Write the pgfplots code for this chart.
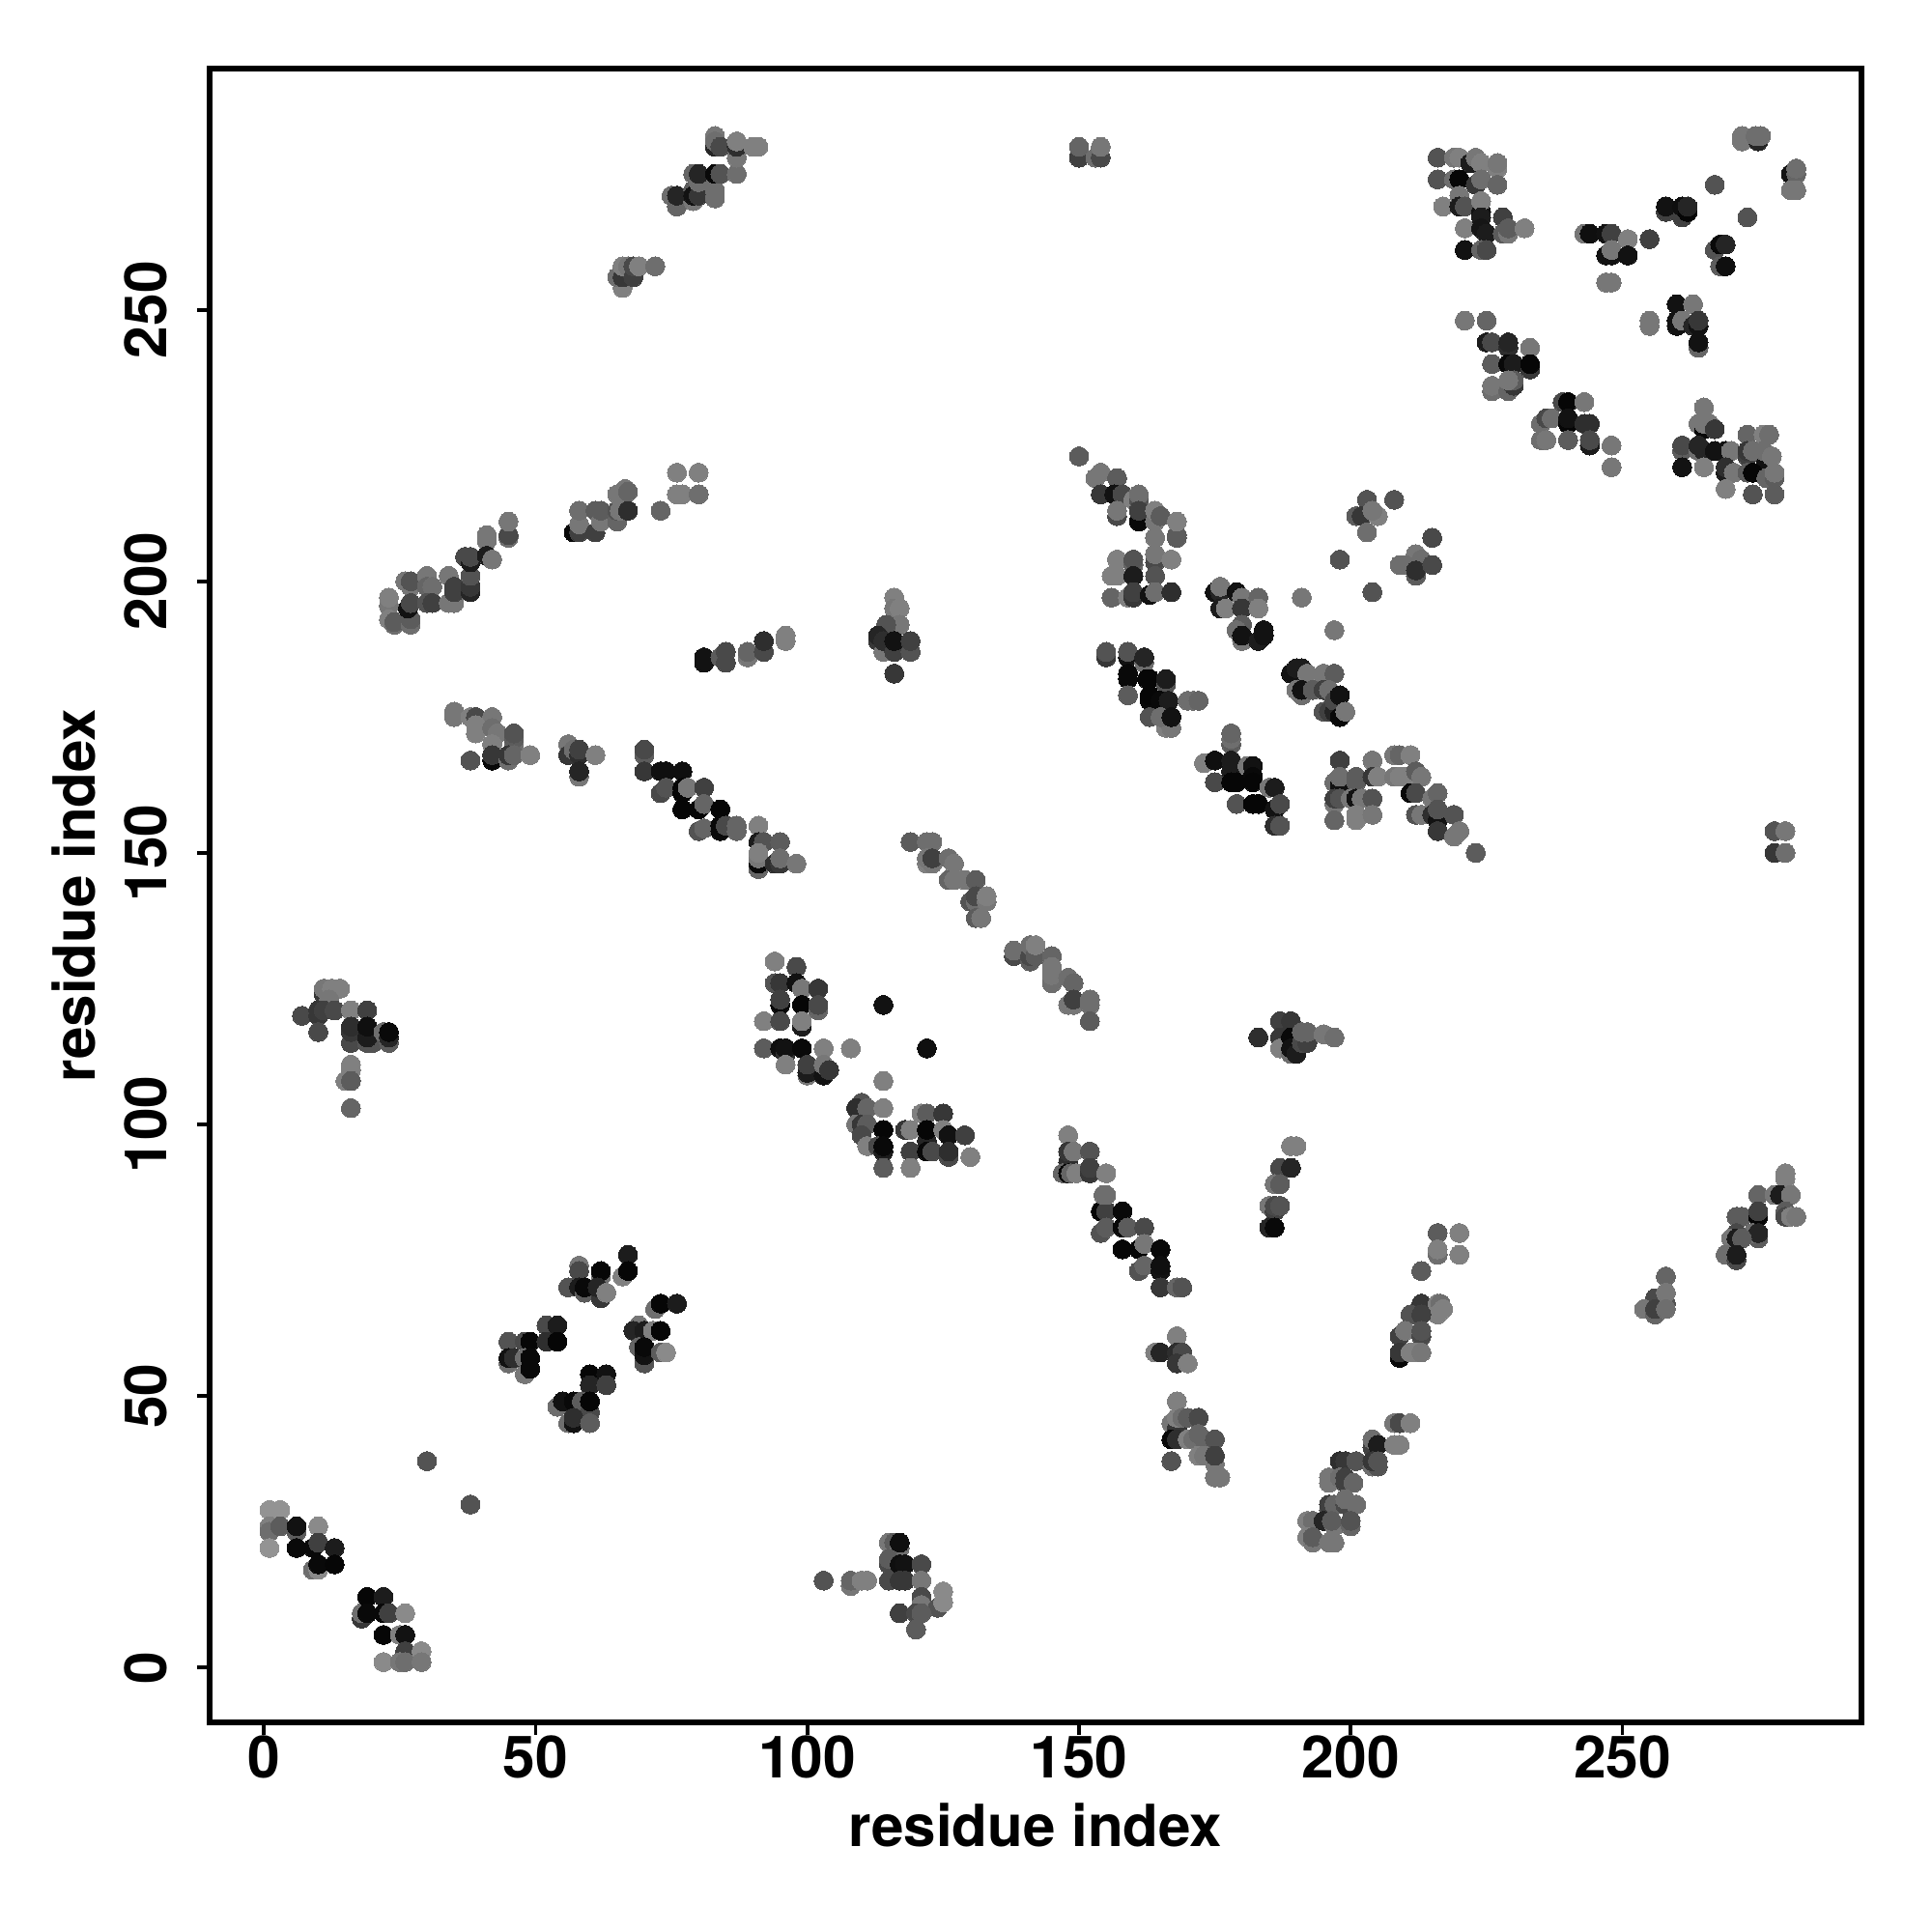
\documentclass[border=0pt]{standalone}
\usepackage{fontspec}
\setmainfont{TeX Gyre Heros}
\usepackage{pgfplots}
\pgfplotsset{compat=1.18}
\begin{document}
\begin{tikzpicture}
\path[use as bounding box] (0,0) rectangle (20cm,20cm);
\begin{axis}[
 at={(2.17cm,2.17cm)}, anchor=south west, scale only axis,
 width=17.10cm, height=17.12cm,
 xmin=-10, xmax=294, ymin=-10.1, ymax=294.4,
 xtick={0,50,100,150,200,250}, ytick={0,50,100,150,200,250},
 axis line style={line width=1.45pt}, tick style={black,line width=1.1pt},
 tick align=outside, major tick length=0.13cm, xtick pos=bottom, ytick pos=left,
 /pgf/number format/assume math mode=true,
 ticklabel style={font=\fontsize{17.2}{18}\selectfont\bfseries},
 label style={font=\fontsize{17.1}{18}\selectfont\bfseries},
 yticklabel style={rotate=90,anchor=south,yshift=0.19cm},
 xticklabel style={yshift=0.12cm},
 xlabel={residue index}, ylabel={residue index},
 xlabel style={at={(axis description cs:0.5,0)},anchor=north,yshift=-0.71cm},
 ylabel style={at={(axis description cs:0,0.5)},anchor=south,rotate=0,yshift=1.06cm},
 colormap={gs}{gray(0cm)=(0); gray(1cm)=(1)},
]
\addplot[scatter, only marks, mark=*, mark size=2.8pt, point meta=explicit, point meta min=0, point meta max=140,
 scatter/use mapped color={draw=mapped color,fill=mapped color}, mark options={line width=0pt}]
 table[row sep=\\, header=false, x index=0, y index=1, meta index=2] {
1 29 80\\3 29 80\\1 26 70\\1 25 60\\3 26 50\\6 25 50\\6 26 10\\10 26 75\\1 22 80\\6 22 5\\9 22 5\\10 23 35\\13 22 15\\9 18 60\\10 18 75\\10 19 5\\13 19 3\\
18 9 30\\18 10 60\\19 13 3\\22 13 15\\19 10 5\\22 10 5\\23 10 35\\26 10 75\\22 6 3\\25 6 70\\26 6 10\\26 3 35\\29 3 75\\22 1 75\\25 1 65\\26 1 60\\29 1 65\\
30 38 45\\38 30 45\\
45 60 45\\48 60 40\\49 60 3\\52 63 40\\54 63 15\\52 60 25\\54 60 3\\45 56 60\\45 57 10\\46 57 25\\48 57 60\\48 54 65\\49 55 5\\49 57 5\\
58 74 65\\58 73 40\\62 72 60\\62 73 3\\56 70 45\\58 70 15\\59 69 50\\59 70 5\\62 68 30\\61.4 70 20\\63 69 70\\67 76 15\\66 72 70\\67 73 3\\
72 66 60\\73 67 3\\76 67 15\\69 63 65\\68 62 20\\70 62 15\\71.6 62 70\\73 62 3\\69 59 55\\70 56 45\\70 57.5 10\\70 59 5\\73 58 50\\74 58 75\\
60 54 3\\63 54 10\\60 52 20\\63 52 35\\54 48 60\\55 49 10\\57 49 5\\58.5 49 50\\60 47 40\\60 49 3\\56 45 60\\57 45 10\\57 46 25\\60 45 50\\
114 108 70\\110 104 45\\109 103 25\\111 103 55\\114 103 70\\109 100 65\\110 100 30\\111 100 50\\110 98 40\\114 99 3\\111 96 70\\113 96 40\\114 95 15\\114 96 5\\114 92 50\\118 99 30\\119 99 70\\119 95 35\\119 92 70\\121 102 70\\122 102 50\\125 102 30\\122 97 20\\122 99 3\\122 95 5\\123 95 40\\125 99 70\\126 98 10\\129 98 35\\126 94 40\\126 95 25\\130 94 70\\
148 98 70\\148 93 25\\148 95 30\\149 95 65\\152 95 45\\147 91 55\\148 91 5\\148.5 91 55\\149.5 91 70\\152 91 30\\152 92 35\\155 91 70\\
154 84 3\\155 84 35\\154.5 87 60\\155 87 60\\158 84 5\\154 80 45\\155 81 50\\158 81 5\\159 81 50\\162 81 40\\158 77 3\\161 77 3\\162 78 65\\165 77 5\\161 73 45\\162 74 55\\165 73 10\\165 74 8\\165 70 30\\168 70 55\\169 70 45\\
168 61 70\\164 58 70\\165 58 20\\168 58 25\\169 58 40\\168 56 30\\170 56 70\\
168 49 70\\167 45 65\\168 44 30\\168 46 70\\169 46 60\\170 46 50\\172 46 40\\167 42 5\\168 42 25\\170 42 70\\171 42 60\\172 43 55\\173 42 55\\175 42 45\\167 38 45\\172 39 70\\173 39 65\\175 37.5 65\\175 39 35\\175 35 65\\176 35 65\\
103 16 45\\108 15 65\\108 16 55\\110 16 70\\111 16 70\\115 23 65\\116 23 50\\117 22 60\\117 23 8\\115 19 40\\115 20 50\\117 19 8\\118 19 10\\121 19 40\\115 16 40\\117 16 30\\118 16 30\\121 16 65\\121 13 40\\121 11.5 65\\124 11 45\\125 14 75\\125 12 75\\117 10 35\\120 10 40\\121 10 50\\120 7 50\\
189 96 70\\190 96 70\\187 92 40\\189 92 20\\186 89 65\\187 89 50\\185 85 65\\186 84 35\\186 85 40\\187 85 45\\185 81 20\\186 81 5\\
183 116 25\\187 119 35\\189 119 30\\187 116 30\\187 114 70\\189 113 60\\189 116 5\\189 114 10\\190 113 15\\191 115 40\\192 115 35\\191 117 55\\192 117 55\\195 116.6 65\\197 116 60\\
216 80 50\\220 80 70\\216 76 60\\216 77 70\\220 76 70\\213 73 50\\213 67 30\\216 67 70\\216.5 67 60\\216 65 70\\217 66 70\\211 65 45\\213 65 35\\209 61 35\\210 62 65\\213 61 40\\213 62 45\\209 57 5\\209 58 30\\211 58 70\\212 58 70\\213 58 65\\
208 45 65\\209 45 40\\211 45 70\\204 40.5 35\\204 42 60\\205 41 15\\208 41 70\\209 41 70\\198 38 25\\199 38 30\\201 38 45\\204 37 60\\205 37 45\\204 38 30\\205 38 45\\196 34 65\\196 35 65\\198 35 60\\199 34 35\\199 35 35\\200.5 34 55\\
196 29 45\\196 30 35\\197 30 55\\199 30 40\\199 31 60\\201 30 60\\192 27 70\\193 27 60\\195 27 20\\197 26 65\\196.5 27 50\\200 26 55\\200 27 45\\192 24 70\\193 23 65\\193 24 50\\196 23 65\\197 23 65\\
258 72 55\\256 68 40\\258 67 45\\258 69 65\\254 66 65\\256 65 55\\256 66 35\\258 66 60\\
280 91 70\\280 90 70\\275 87 55\\278 87 65\\279 87 15\\281 87 65\\280 84 50\\280 83 40\\281 83 70\\282 83 65\\271 83 50\\272 83 50\\275 83 3\\275 84 35\\275 79 50\\274 80 60\\275 80 20\\271 80 40\\270 79 65\\271 79 15\\272 79 50\\269 76 60\\271 75 40\\271 76 15\\
7 120 40\\11 124 30\\11 125 65\\12.5 125 70\\14 125 70\\12 123 65\\10 120 30\\10 121 30\\11 121 35\\13 121 40\\10 117 40\\16 121 70\\19 121 35\\16 115 40\\16 117 30\\16 118 25\\19 115 45\\20 115 45\\19 116 15\\19 118 8\\22 117 60\\23 115 50\\23 116 20\\23 117 5\\16 111 70\\16 110 70\\15 108 70\\16 108 50\\16 103 55\\
35 176 65\\35 175 65\\38 175 70\\39 175 40\\42 175 65\\39 173.5 70\\39 172 70\\42 173 60\\43 172 65\\42 170 70\\46 169.5 60\\46 171 50\\46 172 45\\42 167 5\\42 168 30\\38 167 45\\45 167 60\\45 168 30\\46 168 55\\49 168 70\\
56 170 65\\56 168 30\\57 169 60\\58 168 25\\58 169 35\\61 168 70\\58 164 65\\58 165 20\\
70 168 50\\70 169 40\\70 165 30\\73 165 8\\74 165 8\\77 165 8\\73 161 40\\74 162 45\\77 161 3\\77 162 3\\78 162 65\\81 162 35\\77 158 3\\80 158 3\\81 159 55\\84 158 3\\80 154 45\\81 154.5 55\\84 154 5\\84 155 5\\85 155 40\\87 154 55\\87 155 55\\
91 155 70\\91 152 15\\92 152 45\\95 152 50\\91 147 55\\91 148 5\\91 149 65\\91 150 70\\94 148 25\\95 148 30\\95 149 60\\98 148 65\\
94 130 70\\98 129 40\\94 126 45\\95 126 30\\98 126 10\\99 125 65\\102 125 30\\95 122 5\\95 123 35\\99 122 3\\102 121 55\\102 122 40\\92 119 70\\95 119 40\\99 118 15\\99 119 70\\
92 114 50\\95 114 8\\96 113 25\\96 114 10\\99 114 5\\103 114 70\\108 114 70\\96 111 70\\100 109 65\\100 109.5 15\\100 111 35\\103 109 10\\103 111 65\\104 110 30\\
114 122 10\\122 114 8\\114 108 70\\
116 197 70\\116 195 65\\117 195 70\\117 192 65\\114.5 192 45\\113 189 30\\113 190 20\\114 187 65\\114 189 25\\116 187 35\\116 189 10\\119 187 45\\119 189 35\\116 183 30\\
119 152 50\\122 152 60\\123 152 60\\122 148 70\\122 149 65\\123 148 65\\123 149 35\\126 149 60\\127 148 65\\126 145 55\\127 145 65\\129 145 65\\131 145 50\\130 141 45\\131 141 60\\131 142 40\\133 141 65\\133 142 70\\131 138 50\\132 138 65\\
138 131 40\\138 132 60\\141 130 50\\141 131 40\\141 133 60\\142 131 50\\142 133 70\\145 131 55\\145 126 60\\145 127.5 65\\145 129 65\\148 127 60\\149 126 55\\148 122 65\\149 122 65\\149 123 35\\152 122 60\\152 123 60\\152 119 50\\
150 223 50\\153 219 65\\154 220 65\\157 219 50\\154 216 30\\156.5 216 10\\158 216 40\\157 212 40\\157 213 65\\160 215 70\\161 215 45\\161 216 60\\161 211 5\\161 213 35\\164 211 65\\164 213 70\\165 212 50\\164 208 65\\168 208 50\\168 208.5 50\\168 211 70\\
157 204 70\\160 203 55\\160 204 45\\164 203.5 40\\164 205 65\\167 204 70\\156 201 70\\157 201 70\\160 201 15\\164 201 45\\156 197 55\\159 197 70\\160 197 30\\160 198 35\\163 197.5 10\\164 198 60\\167 198 25\\
175 198 10\\176 198 20\\176 199 65\\176 195 15\\177 195 70\\179 198 10\\180 197 65\\183 197 55\\180 195 30\\183 195 70\\180 192 50\\179 191 60\\180 189 65\\180 190 10\\183 189 15\\184 190 10\\184 191 10\\
191 197 65\\197 191 65\\198 204 45\\204 198 45\\
203 215 45\\208 215 45\\201 212 50\\202 212 30\\205 212 70\\204 213 65\\203 209 60\\
215 208 40\\212 205 65\\212 204 65\\213 204 60\\209 203 60\\210 203 60\\212 201 50\\212 202 25\\215 203 40\\
189 183 10\\190 184 15\\191 184 15\\192 183 65\\195 183 65\\197 183 50\\191 179 60\\190 180 65\\191 180 10\\193 180 50\\195 180 35\\196 180 60\\195 176 45\\196 176 35\\197 176 20\\197 178 40\\198 179 10\\198 175 5\\199 176 65\\
155 186 30\\155 187 45\\159 186 10\\159 187 45\\162 185 60\\162 186 20\\159 182 5\\159 183 5\\162.5 182 3\\163 182 3\\166 181 45\\166 182 15\\159 179 50\\163 178 5\\163 179 3\\165 178 5\\166.5 178 15\\170 178 60\\171 178 60\\172 178 55\\163 175 45\\166 173 70\\167 173 65\\165 175 60\\167 175 10\\
178 170 50\\178 171 60\\178 172 55\\173 166.5 70\\175 167 8\\178 165 15\\178 167 15\\175 163 40\\181 166 65\\182 166 10\\178 163 3\\179 163 3\\182 164 5\\182 163 3\\179 159 45\\182 159 3\\183 159 3\\185 162 65\\186 162 15\\186 158 10\\187 159 40\\186 155 25\\187 155 45\\
198 167 35\\204 167 65\\208 168 65\\209 168 55\\211 168 70\\197 163 60\\198 162.5 10\\198 164 60\\201 163 50\\201 164 50\\204 164 30\\205 164 70\\208 164 65\\209 164 70\\210 164 70\\212 165 50\\213 164 65\\
197 159 65\\197 160 35\\198 160 45\\200 160 65\\201 160 10\\202 160 65\\204 160 45\\197 156 55\\201 156 70\\201 157 70\\204 157 65\\211 161 5\\212 161 40\\215 160 65\\216 161 55\\212 157 45\\213 157 65\\215 157 25\\216 156 10\\216 158 45\\219 157 45\\216 154 30\\219 153 65\\220 154 65\\223 150 50\\
23 195.5 65\\23 197 70\\23 193 70\\24 192 60\\24 192.5 50\\27 192 60\\27 193 50\\26 200 65\\27 199 65\\27 200 45\\26.5 195 10\\27 196 40\\30 201 65\\30 199 55\\31 199 60\\30 196 45\\31 196 35\\34 201 65\\34 196 65\\35 196 65\\35 198 35\\35 199 35\\38 198 20\\38 199 30\\38 201 45\\37 204.5 40\\38 203.5 15\\38 204.5 40\\41 207.5 65\\41 208.5 65\\41 204.7 15\\42 204 65\\45 208 60\\45 208.5 40\\45 211 65\\
57 209 5\\58 209 35\\58 210.5 65\\58 213 60\\61 209 35\\61 213 50\\62 211 65\\62 213 50\\65 211 55\\65 213 45\\65.5 213 65\\67 213 25\\65 216 65\\66.5 217 65\\67 216.5 55\\73 213 55\\76 220 70\\80 220 70\\76 216 70\\77 216 70\\80 216 60\\
81 185 10\\81 186 10\\84 186 50\\85 185 40\\85 187 40\\89 186 65\\89 187 55\\92 187 40\\92 189 25\\96 189 70\\96 190 70\\
66 254 70\\65 256 60\\66 256 30\\66 258 70\\67 258 65\\68 256 35\\68 258 40\\69 258 70\\72 258 60\\
75 271 60\\76 269 55\\76 271 20\\79 270 65\\79 272 50\\79 271 10\\80 271 30\\83 270.5 60\\83 272 60\\79 275 55\\80 273.5 60\\80 275 20\\83 275 5\\84 275 45\\87 275 60\\83 282 65\\83 280 20\\83 281 60\\84 280 40\\87 278 65\\87 280 25\\87 281 70\\90 280 70\\91 280 70\\
150 278 35\\150 280 55\\153 278 60\\154 278 40\\154 280 65\\
216 278 45\\219 278 65\\220 278 70\\222 277 15\\223 278 65\\224 277 70\\227 276 70\\227 277 65\\216 274 45\\219 274 60\\220 274 3\\223 273 30\\224 274 60\\227 273 55\\220 271 65\\217 269 70\\220 269 15\\221 269 45\\224 268 10\\224 270 70\\221 265 70\\224 267 15\\224 265 12\\225 264 15\\228 267 35\\228 264 50\\229 264 65\\229 265 50\\232 265 70\\221 261 10\\224 261 55\\225 261 40\\
243 264 65\\244 264 8\\247 264 10\\248 264 35\\251 263 70\\255 263 35\\247 260 10\\248 260 10\\248 261 65\\251 260 10\\247 255 65\\248 255 65\\
258 268 35\\258 269 10\\261 267 35\\261 269 8\\262 268 3\\262 269 20\\267 273 45\\273 267 45\\267 261 45\\268 262 5\\269 262 20\\268 258 50\\269 258 8\\
272 281 65\\272 282 65\\275 281 20\\274.5 282 60\\275.5 282 60\\281 275 10\\282 275 55\\282 276 60\\281 272 65\\282 272 65\\
221 248 65\\225 248 55\\225 244 15\\226 244 40\\229 243 25\\229 244 20\\233 243 65\\226 240 50\\229 240 5\\230 240 15\\233 239 30\\233 240 3\\226 235 60\\226 236 65\\229 235 55\\230 236 30\\230 237 50\\229 237 65\\
239 233 40\\240 233 3\\243 233 65\\235 229 60\\236 230 40\\237 230 60\\240 229 3\\240 230 10\\243 229 25\\244 229 25\\235 226 60\\236 226 65\\240 226 50\\244 225 15\\244 226 40\\248 225 65\\248 221 65\\
255 247 65\\255 248 65\\260 251 10\\263 251 65\\260 247 10\\260 248 10\\261 248 65\\263 247 20\\264 247 10\\264 248 30\\264 243 55\\264 244 10\\
265 232 65\\264 229 65\\265 228 5\\265 229 65\\266 229 65\\267 228 30\\261 224 50\\261 225 40\\261 221 10\\264 224 60\\264 225 20\\265 224 20\\267 224 10\\265 221 70\\269 224 10\\270 224 65\\269 220 15\\269 221 25\\270.5 220 65\\269 217 70\\
273 227 55\\276 227 70\\277 227 60\\273 223 35\\273 224 30\\274 224 60\\276.5 222 10\\276 224 60\\277.5 223 65\\273 220 50\\274 220 3\\276.5 219 55\\278 219 50\\278 220 65\\274 216 45\\278 216 50\\
278 154 45\\280 154 65\\278 150 30\\280 150 60\\
};
\end{axis}
\end{tikzpicture}
\end{document}
